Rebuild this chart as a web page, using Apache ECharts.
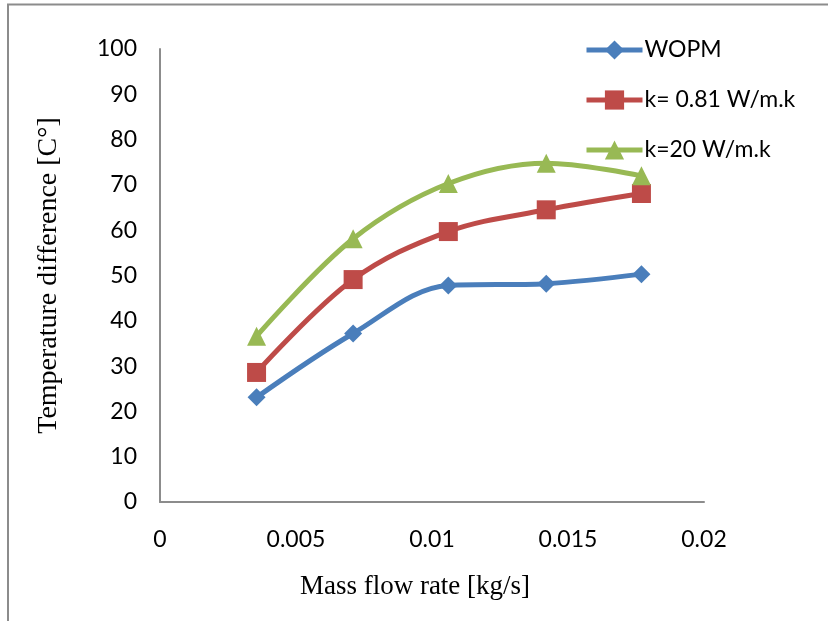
<!DOCTYPE html>
<html><head><meta charset="utf-8">
<script src="https://cdn.jsdelivr.net/npm/echarts@6/dist/echarts.min.js"></script>
<style>html,body{margin:0;padding:0;background:#fff}#c{width:828px;height:621px}</style>
</head><body><div id="c"></div>
<script>
const massFlow = [0.00355, 0.0071, 0.0106, 0.0142, 0.0177];
const wopm = [23.1, 37.2, 47.8, 48.2, 50.3];
const k081 = [28.6, 49.1, 59.7, 64.5, 68.1];
const k20 = [36.6, 58.1, 70.3, 74.8, 72.0];
const seriesNames = ['WOPM', 'k= 0.81 W/m.k', 'k=20 W/m.k'];
const xTicks = [0, 0.005, 0.01, 0.015, 0.02];
const yTicks = [0, 10, 20, 30, 40, 50, 60, 70, 80, 90, 100];

const colors = ['#4A7EBB', '#BE4B48', '#98B954'];
const symbols = ['diamond', 'rect', 'triangle'];
const symbolSizes = [18, 19, 19];
const datas = [wopm, k081, k20];

const chart = echarts.init(document.getElementById('c'));
const labelFont = { fontFamily: 'Lato, "Open Sans", sans-serif', fontSize: 23, color: '#000' };
chart.setOption({
  animation: false,
  graphic: [{ type: 'polyline', shape: { points: [[8, 621], [8, 4.5], [828, 4.5]] }, style: { stroke: '#8c8c8c', lineWidth: 2, fill: null } }],
  grid: { left: 160, right: 124, top: 49, bottom: 119 },
  legend: {
    orient: 'vertical', left: 579, top: 33, itemWidth: 56, itemHeight: 24, itemGap: 26,
    data: seriesNames,
    lineStyle: { width: 5 },
    textStyle: { fontFamily: 'Lato, "Open Sans", sans-serif', fontSize: 23, lineHeight: 24, color: '#000', padding: [0, 0, 0, -3] }
  },
  xAxis: {
    type: 'value', min: 0, max: 0.02, interval: 0.005,
    name: 'Mass flow rate [kg/s]', nameLocation: 'middle', nameGap: 71,
    nameTextStyle: { fontFamily: '"Liberation Serif", serif', fontSize: 27, color: '#000', padding: [0, 34, 0, 0] },
    axisLine: { lineStyle: { color: '#8c8c8c', width: 2 } },
    axisTick: { show: false }, splitLine: { show: false },
    axisLabel: Object.assign({ margin: 26, formatter: v => String(+v.toFixed(3)) }, labelFont)
  },
  yAxis: {
    type: 'value', min: 0, max: 100, interval: 10,
    name: 'Temperature difference [C°]', nameLocation: 'middle', nameGap: 97,
    nameTextStyle: { fontFamily: '"Liberation Serif", serif', fontSize: 28, color: '#000' },
    axisLine: { show: true, lineStyle: { color: '#8c8c8c', width: 2 } },
    axisTick: { show: false }, splitLine: { show: false },
    axisLabel: Object.assign({ margin: 23 }, labelFont)
  },
  series: seriesNames.map((n, i) => ({
    name: n, type: 'line', smooth: 0.35,
    data: massFlow.map((x, j) => [x, datas[i][j]]),
    symbol: symbols[i], symbolSize: symbolSizes[i],
    lineStyle: { color: colors[i], width: 5 },
    itemStyle: { color: colors[i] },
    z: 2 + i
  }))
});
</script></body></html>
